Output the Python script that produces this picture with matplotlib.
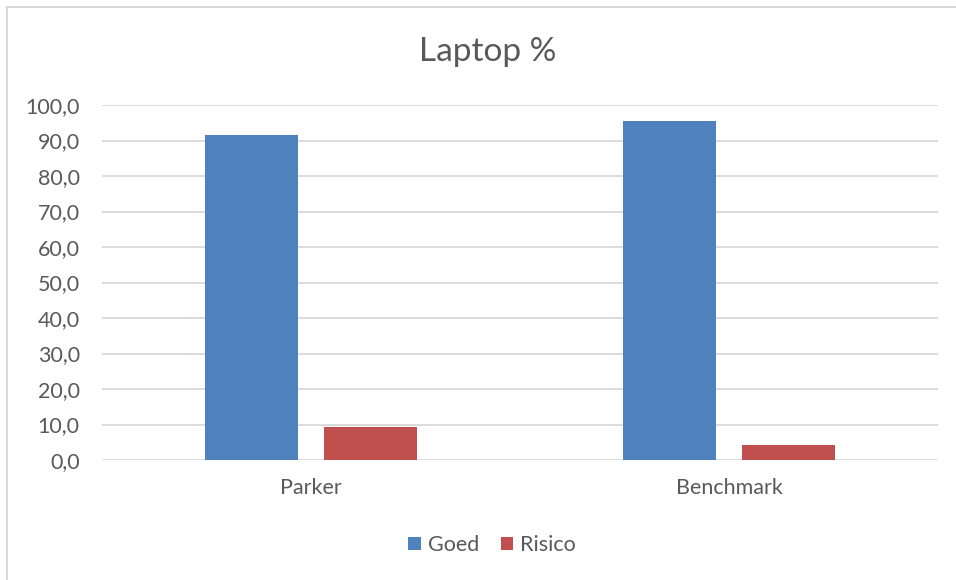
import numpy as np
import matplotlib.pyplot as plt
from matplotlib.lines import Line2D

categories = ['Parker', 'Benchmark']
goed = [91.5, 95.6]
risico = [9.2, 4.2]
yticks = np.arange(0, 101, 10)

W, H = 956, 580
plt.rcParams['font.family'] = ['Lato', 'DejaVu Sans']
text_color = '#595959'
grid_color = '#D9D9D9'

fig = plt.figure(figsize=(W / 100, H / 100), dpi=100)
ax = fig.add_axes([102 / W, 1 - 460 / H, 836 / W, 355 / H])

x = np.arange(len(categories))
bw = 0.224
off = 0.1425
ax.bar(x - off, goed, bw, color='#4F81BD', label='Goed', zorder=3)
ax.bar(x + off, risico, bw, color='#C0504D', label='Risico', zorder=3)

ax.set_xlim(-0.5, len(categories) - 0.5)
ax.set_ylim(0, 100)
ax.set_yticks(yticks)
ax.set_yticklabels(['{:.1f}'.format(v).replace('.', ',') for v in yticks])
ax.set_xticks(x)
ax.set_xticklabels(categories)
ax.tick_params(axis='both', length=0, labelsize=15.5, labelcolor=text_color)
ax.tick_params(axis='y', pad=16)
ax.tick_params(axis='x', pad=13)
ax.grid(axis='y', color=grid_color, linewidth=1.3, zorder=0)
for s in ax.spines.values():
    s.set_visible(False)

fig.text(488 / W, 1 - 52 / H, 'Laptop %', ha='center', va='center',
         fontsize=24, color=text_color)

fig.legend(loc='center', bbox_to_anchor=(492 / W, 1 - 545 / H), ncol=2,
           frameon=False, fontsize=15.5, labelcolor=text_color,
           handlelength=0.6, handleheight=0.6, handletextpad=0.3,
           columnspacing=1.0)

# chart area border (top and left edges)
fig.add_artist(Line2D([7 / W, 1], [1 - 6.5 / H, 1 - 6.5 / H], color=grid_color, linewidth=1.5))
fig.add_artist(Line2D([7 / W, 7 / W], [0, 1 - 6.5 / H], color=grid_color, linewidth=1.5))

fig.savefig('out.png', dpi=100)
